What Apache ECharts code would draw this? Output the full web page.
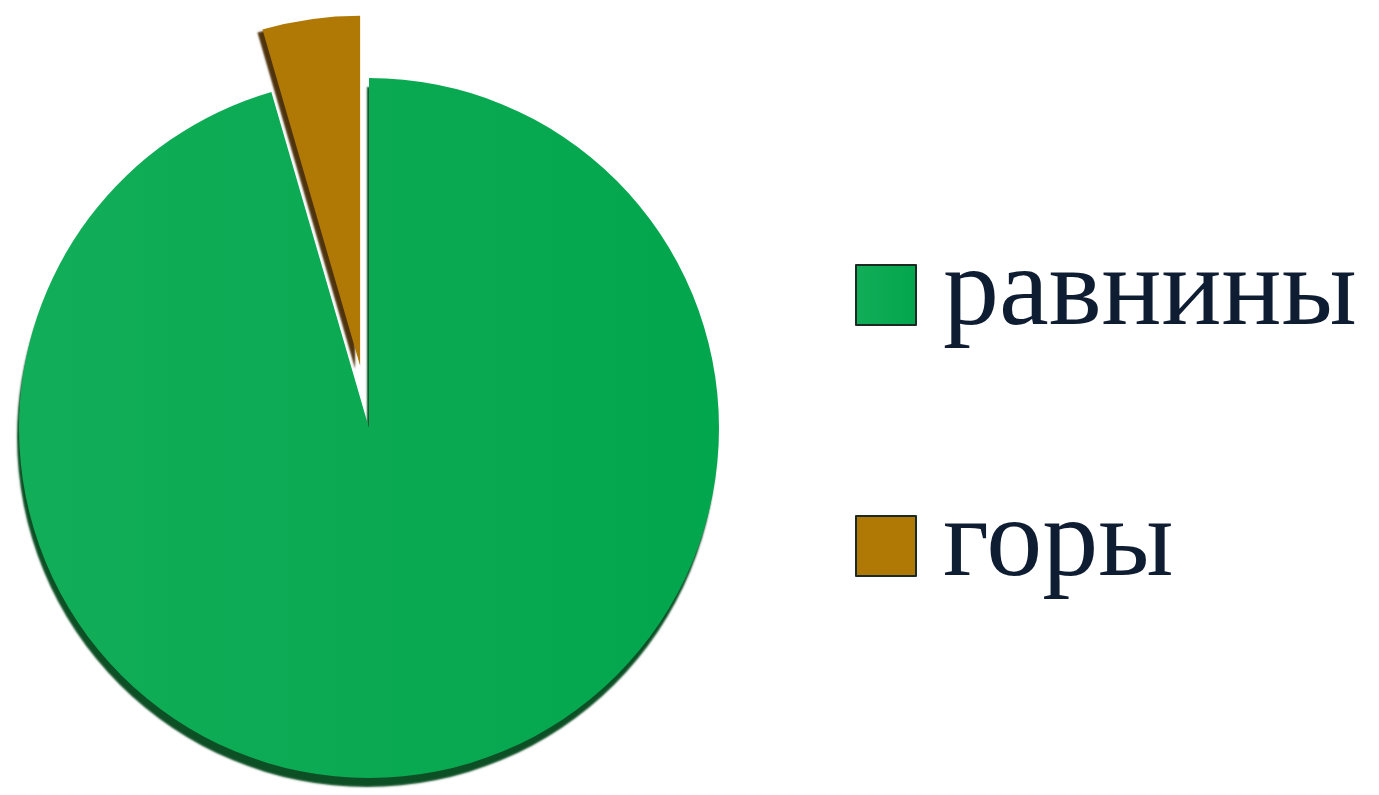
<!DOCTYPE html>
<html>
<head>
<meta charset="utf-8">
<script src="https://cdn.jsdelivr.net/npm/echarts@6/dist/echarts.min.js"></script>
<style>
html,body{margin:0;padding:0;background:#fff;}
#chart{width:1379px;height:795px;}
</style>
</head>
<body>
<div id="chart"></div>
<script>
const categories = ['равнины', 'горы'];
const values = [95.5, 4.5];
const colors = ['#08a94f', '#b07905'];
const shadowColors = ['rgba(0,70,25,0.95)', 'rgba(70,40,0,0.95)'];

const chart = echarts.init(document.getElementById('chart'));
chart.setOption({
  animation: false,
  legend: {
    orient: 'vertical',
    left: 850,
    top: 234,
    itemWidth: 60,
    itemHeight: 60,
    itemGap: 139,
    icon: 'rect',
    selectedMode: false,
    itemStyle: { borderColor: '#1b2a22', borderWidth: 2 },
    textStyle: {
      fontFamily: 'Liberation Serif',
      fontSize: 112,
      color: '#0f1d33',
      padding: [0, 0, 0, 22]
    },
    data: categories
  },
  series: [{
    type: 'pie',
    center: [369, 428],
    radius: 350,
    startAngle: 90,
    clockwise: true,
    selectedMode: 'single',
    selectedOffset: 63,
    label: { show: false },
    labelLine: { show: false },
    emphasis: { disabled: true },
    data: categories.map((name, i) => ({
      name: name,
      value: values[i],
      selected: i === 1,
      itemStyle: {
        color: i === 0 ? {
          type: 'linear', x: 0, y: 0, x2: 1, y2: 0,
          colorStops: [{ offset: 0, color: '#12ad58' }, { offset: 1, color: '#02a64d' }]
        } : colors[i],
        shadowColor: shadowColors[i],
        shadowBlur: 2,
        shadowOffsetX: i === 0 ? -2 : -5,
        shadowOffsetY: i === 0 ? 9 : 3
      }
    }))
  }]
});
</script>
</body>
</html>
